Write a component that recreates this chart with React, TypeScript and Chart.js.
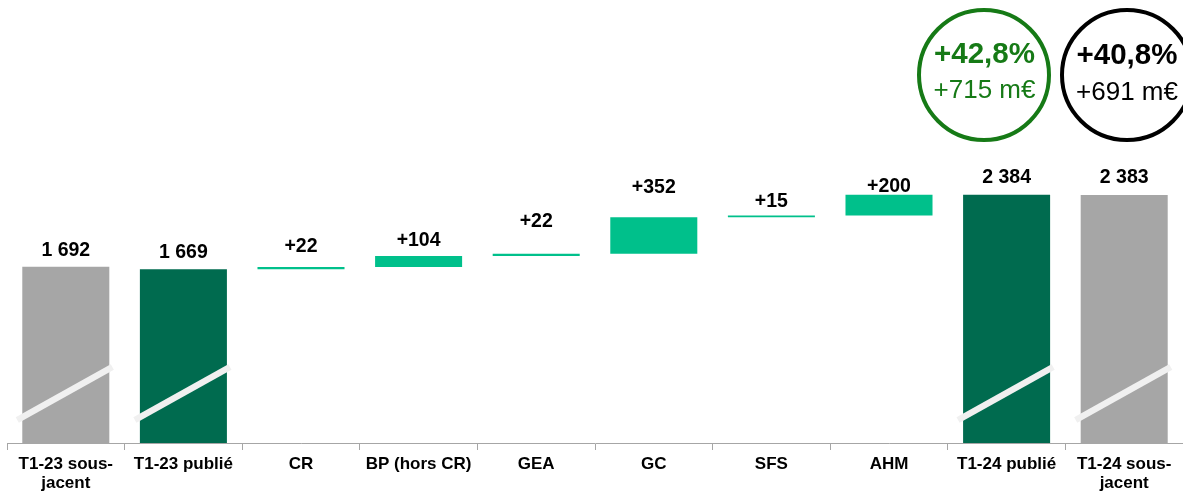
import React, { useEffect, useRef } from "react";
import { Chart, registerables } from "chart.js";

Chart.register(...registerables);

// ---- data ----
const categories: (string | string[])[] = [
  ["T1-23 sous-", "jacent"],
  "T1-23 publié",
  "CR",
  "BP (hors CR)",
  "GEA",
  "GC",
  "SFS",
  "AHM",
  "T1-24 publié",
  ["T1-24 sous-", "jacent"],
];
// kind: "total" bars start at 0, "delta" bars float on the running total
const kinds = ["total", "total", "delta", "delta", "delta", "delta", "delta", "delta", "total", "total"];
const values = [1692, 1669, 22, 104, 22, 352, 15, 200, 2384, 2383];
const barKinds = ["under", "pub", "step", "step", "step", "step", "step", "step", "pub", "under"];
const brokenBars = [0, 1, 8, 9];
const breakLow = 221;
const breakHigh = 730;
const yMax = 4255;

const growthPublished = { pct: "+42,8%", amount: "+715 m€" };
const growthUnderlying = { pct: "+40,8%", amount: "+691 m€" };

// label lift above bar top (px), as placed in the original slide
const labelLift = [11, 11, 15, 10, 27, 24, 9, 3, 12, 12];

const COLORS: Record<string, string> = {
  under: "#A6A6A6",
  pub: "#006B4F",
  step: "#00C08B",
};
const FONT = "'Liberation Sans', Arial, sans-serif";

function fmtTotal(n: number) {
  return String(n).replace(/\B(?=(\d{3})+(?!\d))/g, " ");
}

export default function App() {
  const ref = useRef<HTMLCanvasElement | null>(null);

  useEffect(() => {
    if (!ref.current) return;
    // build floating ranges
    let running = 0;
    const ranges: [number, number][] = [];
    const labels: string[] = [];
    values.forEach((v, i) => {
      if (kinds[i] === "total") {
        ranges.push([0, v]);
        labels.push(fmtTotal(v));
        if (i === 1) running = v;
      } else {
        ranges.push([running, running + v]);
        running += v;
        labels.push("+" + v);
      }
    });

    const overlay = {
      id: "waterfallOverlay",
      afterDatasetsDraw(chart: any) {
        const ctx = chart.ctx;
        const meta = chart.getDatasetMeta(0);
        const yScale = chart.scales.y;
        ctx.save();
        // break marks
        brokenBars.forEach((i) => {
          const el: any = meta.data[i];
          const left = el.x - el.width / 2;
          const right = el.x + el.width / 2;
          ctx.beginPath();
          ctx.moveTo(left - 5, yScale.getPixelForValue(breakLow));
          ctx.lineTo(right + 3, yScale.getPixelForValue(breakHigh));
          ctx.strokeStyle = "#F0F0F0";
          ctx.lineWidth = 6.5;
          ctx.lineCap = "butt";
          ctx.stroke();
        });
        // value labels
        ctx.fillStyle = "#000";
        ctx.font = `bold 19.5px ${FONT}`;
        ctx.textAlign = "center";
        ctx.textBaseline = "alphabetic";
        meta.data.forEach((el: any, i: number) => {
          const top = Math.min(el.y, el.base);
          ctx.fillText(labels[i], el.x, top - labelLift[i]);
        });
        ctx.restore();
      },
    };

    const chart = new Chart(ref.current, {
      type: "bar",
      data: {
        labels: categories as any,
        datasets: [
          {
            data: ranges as any,
            backgroundColor: barKinds.map((k) => COLORS[k]),
            borderWidth: 0,
            barPercentage: 0.74,
            categoryPercentage: 1,
          },
        ],
      },
      options: {
        responsive: false,
        animation: false,
        devicePixelRatio: 1,
        layout: { padding: { left: 7, right: 0, top: 0, bottom: 0 } },
        plugins: { legend: { display: false }, tooltip: { enabled: false } },
        scales: {
          x: {
            grid: {
              display: true,
              drawOnChartArea: false,
              drawTicks: true,
              tickLength: 7,
              color: "#A6A6A6",
              offset: true,
            },
            border: { display: true, color: "#A6A6A6", width: 1 },
            ticks: {
              color: "#000",
              font: { family: FONT, size: 17, weight: "bold", lineHeight: 1.1 },
              padding: 5,
              maxRotation: 0,
              autoSkip: false,
            },
            afterFit: (s: any) => {
              s.height = 53;
            },
          },
          y: { display: false, min: 0, max: yMax },
        },
      },
      plugins: [overlay],
    });
    return () => chart.destroy();
  }, []);

  const circle = (left: number, color: string) => ({
    position: "absolute" as const,
    left,
    top: 8,
    width: 134,
    height: 134,
    boxSizing: "border-box" as const,
    border: `4px solid ${color}`,
    borderRadius: "50%",
  });
  const line = (cx: number, top: number, size: number, bold: boolean, color: string) => ({
    position: "absolute" as const,
    left: cx - 80,
    width: 160,
    top,
    textAlign: "center" as const,
    fontFamily: FONT,
    fontSize: size,
    lineHeight: 1,
    fontWeight: bold ? 700 : 400,
    color,
    whiteSpace: "nowrap" as const,
  });

  const green = "#167A16";
  return (
    <div
      style={{
        position: "fixed",
        left: 0,
        top: 0,
        width: 1183,
        height: 496,
        overflow: "hidden",
        background: "#fff",
      }}
    >
      <canvas ref={ref} width={1183} height={496} style={{ position: "absolute", left: 0, top: 0 }} />
      <div style={circle(917, green)} />
      <div style={line(984.5, 38, 29.5, true, green)}>{growthPublished.pct}</div>
      <div style={line(984.5, 76, 26, false, green)}>{growthPublished.amount}</div>
      <div style={circle(1060, "#000")} />
      <div style={line(1127, 39, 29.5, true, "#000")}>{growthUnderlying.pct}</div>
      <div style={line(1127, 78, 26, false, "#000")}>{growthUnderlying.amount}</div>
    </div>
  );
}
